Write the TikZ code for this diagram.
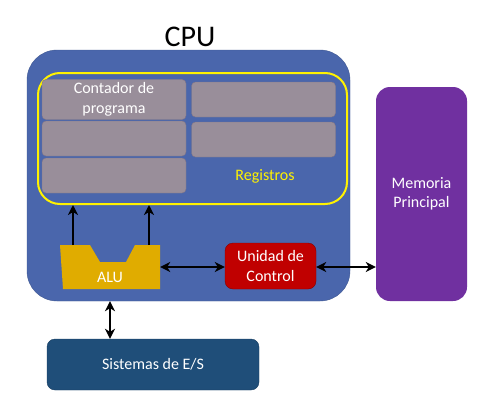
\documentclass[tikz,border=0pt]{standalone}
\usepackage{fontspec}
\setmainfont{Carlito}
\usetikzlibrary{arrows.meta}
\definecolor{cpublue}{HTML}{4A66AC}
\definecolor{cpuedge}{HTML}{3E5791}
\definecolor{reggray}{HTML}{998E9A}
\definecolor{regedge}{HTML}{817585}
\definecolor{alugold}{HTML}{E0AC00}
\definecolor{ucred}{HTML}{C00000}
\definecolor{mempurple}{HTML}{7030A0}
\definecolor{esblue}{HTML}{1F4E79}
\begin{document}
\begin{tikzpicture}[x=1pt,y=-1pt,
		every node/.style={font=\fontsize{16}{19.5}\selectfont, text=white, align=center},
		regbox/.style={rectangle, rounded corners=4pt, fill=reggray, draw=regedge, minimum width=144pt, minimum height=35pt},
		unitbox/.style={rectangle, rounded corners=8pt, inner sep=0pt},
		link/.style={line width=1.8pt, {Stealth[length=10pt,width=10pt,inset=3pt]}-{Stealth[length=10pt,width=10pt,inset=3pt]}},
		uplink/.style={line width=1.8pt, -{Stealth[length=10pt,width=10pt,inset=3pt]}}]
		\useasboundingbox (0,0) rectangle (482,410);

		% CPU
		\node[unitbox, rounded corners=30pt, fill=cpublue, draw=cpuedge, minimum width=323pt, minimum height=251pt] (cpu) at (188.5,175.5) {};
		\node[text=black, font=\fontsize{30}{36}\selectfont] (cputitle) at (190,37) {CPU};

		% Registros
		\node[unitbox, rounded corners=22pt, draw=yellow, line width=2pt, minimum width=309pt, minimum height=131pt] (reg) at (192.5,138.5) {};
		\node[regbox] (pc) at (114,99.5) {Contador de\\programa};
		\node[regbox] (r1) at (263.5,99.5) {};
		\node[regbox] (r2) at (114,138.5) {};
		\node[regbox] (r3) at (263.5,139.5) {};
		\node[regbox] (r4) at (114,175.5) {};
		\node[text=yellow] (regtext) at (265,176) {Registros};

		% ALU
		\fill[alugold] (60,245) -- (90,245) -- (100,262) -- (126,262) -- (135,245) -- (160,245) -- (160,289) -- (63,289) -- cycle;
		\node[unitbox, minimum width=100pt, minimum height=44pt] (alu) at (110,267) {};
		\node (alutext) at (110,277) {ALU};
		\coordinate (aluleft) at (73,245);
		\coordinate (aluright) at (149,245);

		% Unidad de Control, Memoria, E/S
		\node[unitbox, fill=ucred, draw=ucred!70!black, minimum width=91pt, minimum height=46pt] (uc) at (270.5,266) {Unidad de\\Control};
		\node[unitbox, rounded corners=14pt, fill=mempurple, minimum width=91pt, minimum height=214pt] (mem) at (421.5,194) {Memoria\\Principal};
		\node[unitbox, fill=esblue, draw=esblue!80!black, minimum width=212pt, minimum height=51pt] (es) at (153,364.5) {Sistemas de E/S};

		% conexiones
		\draw[uplink] (aluleft) -- (aluleft |- reg.south);
		\draw[uplink] (aluright) -- (aluright |- reg.south);
		\draw[link] (alu.east) -- (uc.west |- alu.east);
		\draw[link] (uc.east |- alu.east) -- (mem.west |- alu.east);
		\draw[link] (alu |- cpu.south) -- (alu |- es.north);
	\end{tikzpicture}
\end{document}
